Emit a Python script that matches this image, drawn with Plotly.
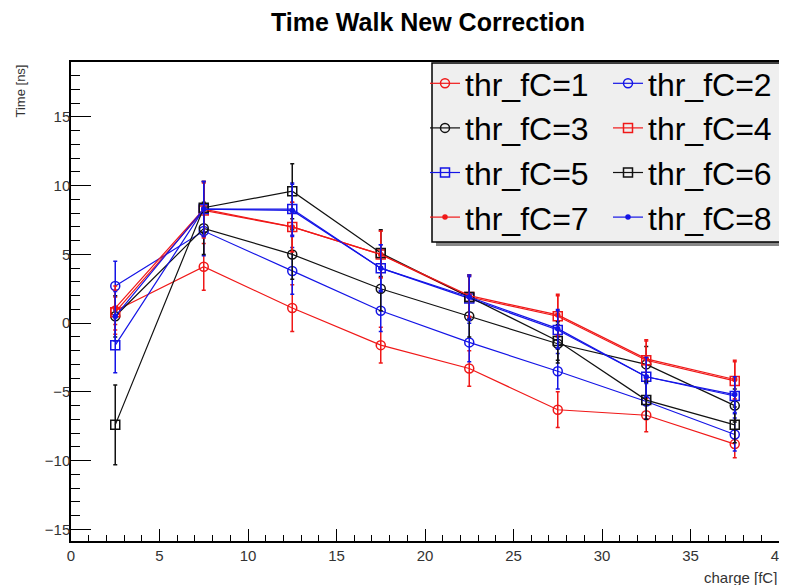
import plotly.graph_objects as go

charge = [2.5, 7.5, 12.5, 17.5, 22.5, 27.5, 32.5, 37.5]

thr1 = [0.9, 4.1, 1.1, -1.6, -3.3, -6.3, -6.7, -8.8]
thr2 = [2.7, 6.7, 3.8, 0.9, -1.4, -3.5, -5.7, -8.1]
thr3 = [0.5, 6.9, 5.0, 2.5, 0.5, -1.5, -3.0, -6.0]
thr4 = [0.8, 8.2, 7.0, 5.0, 1.9, 0.5, -2.7, -4.2]
thr5 = [-1.6, 8.3, 8.3, 4.0, 1.8, -0.5, -3.9, -5.3]
thr6 = [-7.4, 8.4, 9.6, 5.1, 1.9, -1.3, -5.6, -7.4]
thr7 = [1.1, 8.3, 7.0, 5.0, 2.0, 0.6, -2.6, -4.1]
thr8 = [0.5, 8.3, 8.2, 4.0, 1.9, -0.4, -3.9, -5.2]

err1 = [1.0, 1.7, 1.7, 1.3, 1.3, 1.3, 1.2, 1.0]
err2 = [1.8, 1.8, 1.7, 1.5, 1.4, 1.3, 1.3, 1.2]
err3 = [1.5, 1.9, 1.8, 1.6, 1.5, 1.4, 1.3, 1.2]
err4 = [1.6, 2.0, 1.8, 1.7, 1.5, 1.5, 1.4, 1.4]
err5 = [2.0, 2.0, 1.9, 1.7, 1.6, 1.4, 1.4, 1.3]
err6 = [2.9, 1.9, 2.0, 1.7, 1.6, 1.4, 1.4, 1.3]
err7 = [1.6, 2.0, 1.8, 1.7, 1.5, 1.5, 1.4, 1.4]
err8 = [1.8, 2.0, 1.9, 1.7, 1.6, 1.4, 1.4, 1.3]

names = ["thr_fC=1", "thr_fC=2", "thr_fC=3", "thr_fC=4",
         "thr_fC=5", "thr_fC=6", "thr_fC=7", "thr_fC=8"]
series = [thr1, thr2, thr3, thr4, thr5, thr6, thr7, thr8]
errors = [err1, err2, err3, err4, err5, err6, err7, err8]

RED = "#f01818"
BLUE = "#1414e6"
BLACK = "#111111"
colors = [RED, BLUE, BLACK, RED, BLUE, BLACK, RED, BLUE]
symbols = ["circle-open", "circle-open", "circle-open", "square-open",
           "square-open", "square-open", "circle", "circle"]
sizes = [9, 9, 9, 9, 9, 9, 4, 4]
legends = ["legend", "legend2", "legend", "legend2",
           "legend", "legend2", "legend", "legend2"]

fig = go.Figure()
for i in range(8):
    fig.add_trace(go.Scatter(
        x=charge, y=series[i], name=names[i],
        mode="lines+markers",
        line=dict(color=colors[i], width=1.2),
        marker=dict(symbol=symbols[i], size=sizes[i], color=colors[i],
                    line=dict(color=colors[i], width=1.5)),
        error_y=dict(type="data", array=errors[i], visible=True,
                     color=colors[i], thickness=1.5, width=2),
        legend=legends[i], legendgroup=names[i],
    ))

# page body has an 8px default margin: lay out in window coordinates minus 8
OFF = 8
W, H = 787 - OFF, 585 - OFF
L, T = 71 - OFF, 62 - OFF
R, B = W - (779 - OFF), H - (541 - OFF)
pw, ph = W - L - R, H - T - B

def px(x):
    return (x - OFF - L) / pw

def py(y):
    return 1 - (y - OFF - T) / ph

font = "Liberation Sans, Arial, sans-serif"

legend_common = dict(
    xanchor="left", yanchor="top", bgcolor="rgba(0,0,0,0)",
    borderwidth=0, font=dict(family=font, size=32, color="black"),
    traceorder="grouped", tracegroupgap=0, itemwidth=30,
)

fig.update_layout(
    width=W, height=H,
    margin=dict(l=L, r=R, t=T, b=B, autoexpand=False),
    plot_bgcolor="white", paper_bgcolor="white",
    title=dict(text="<b>Time Walk New Correction</b>", x=(428 - OFF) / W,
               xanchor="center", y=1 - (22 - OFF) / H, yanchor="middle",
               xref="container", yref="container",
               font=dict(family=font, size=25, color="black")),
    legend=dict(x=px(425), y=py(56), **legend_common),
    legend2=dict(x=px(608), y=py(56), **legend_common),
    xaxis=dict(range=[0, 40], dtick=5, tick0=0, showgrid=False, zeroline=False,
               showline=True, linecolor="black", linewidth=1.5, mirror=True,
               ticks="inside", ticklen=12, tickcolor="black", tickwidth=1,
               ticklabeloverflow="allow",
               tickfont=dict(family=font, size=15, color="#333"),
               minor=dict(dtick=1, ticks="inside", ticklen=6, tickcolor="black")),
    yaxis=dict(range=[-15.85, 19.0], dtick=5, tick0=0, showgrid=False, zeroline=False,
               showline=True, linecolor="black", linewidth=1.5, mirror=True,
               ticks="inside", ticklen=20, tickcolor="black", tickwidth=1,
               ticklabelstandoff=-4,
               tickfont=dict(family=font, size=15, color="#333"),
               minor=dict(dtick=1, ticks="inside", ticklen=9, tickcolor="black")),
    showlegend=True,
)

# legend box with shadow (ROOT style)
fig.add_shape(type="rect", xref="paper", yref="paper",
              x0=px(436), x1=px(786), y0=py(246), y1=py(67),
              fillcolor="#888888", line=dict(width=0), layer="above")
fig.add_shape(type="rect", xref="paper", yref="paper",
              x0=px(432), x1=px(782), y0=py(242), y1=py(63),
              fillcolor="#efefef", line=dict(color="black", width=1.5), layer="above")

fig.add_annotation(text="Time [ns]", xref="paper", yref="paper",
                   x=px(20), y=py(63), xanchor="center", yanchor="top",
                   textangle=-90, showarrow=False,
                   font=dict(family=font, size=13, color="#333"))
fig.add_annotation(text="charge [fC]", xref="paper", yref="paper",
                   x=1.0, y=py(577), xanchor="right", yanchor="middle",
                   showarrow=False, font=dict(family=font, size=15, color="#333"))

fig.write_html("out.html")
